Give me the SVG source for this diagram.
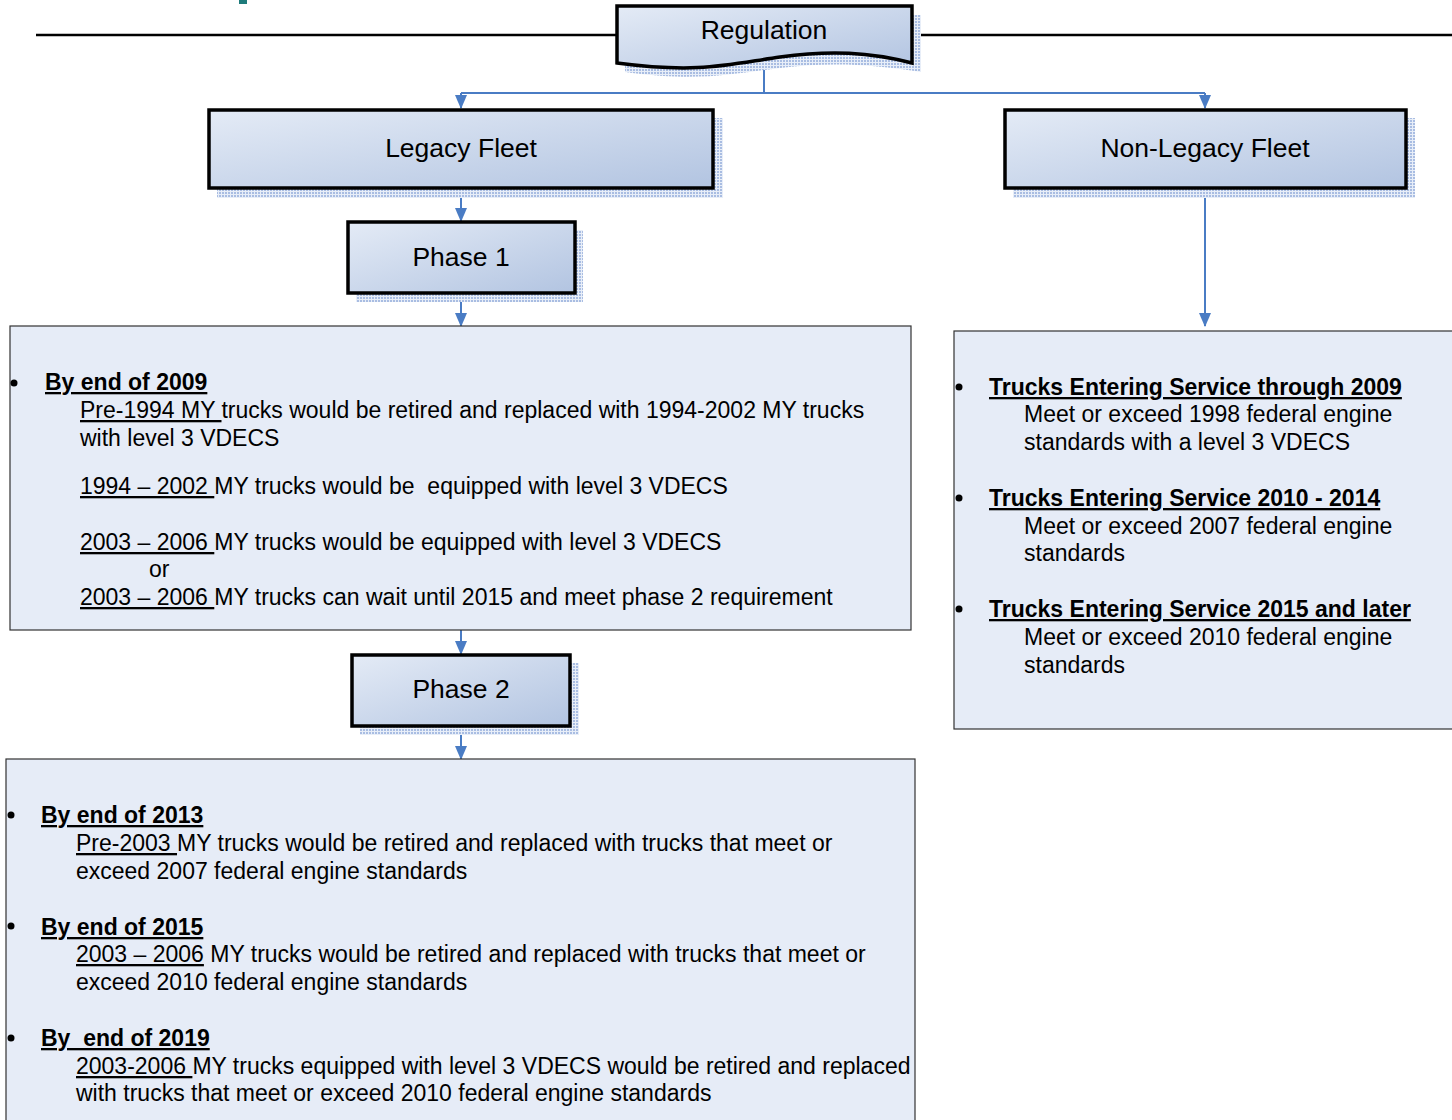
<svg xmlns="http://www.w3.org/2000/svg" width="1452" height="1120" viewBox="0 0 1452 1120">
<defs>
<linearGradient id="g" x1="0" y1="0" x2="1" y2="1">
<stop offset="0" stop-color="#e4ebf6"/>
<stop offset="1" stop-color="#b2c4e1"/>
</linearGradient>
<pattern id="sh" width="3" height="3" patternUnits="userSpaceOnUse">
<rect width="3" height="3" fill="#e8eef8"/>
<rect width="2" height="2" fill="#a9bde2"/>
</pattern>
<marker id="ah" viewBox="0 0 14 12" refX="13" refY="6" markerWidth="14" markerHeight="12" markerUnits="userSpaceOnUse" orient="auto">
<path d="M0,0 L14,6 L0,12 z" fill="#4a7cc4"/>
</marker>
<style>
.node{fill:url(#g);stroke:#000;stroke-width:3.5}
.shadow{fill:url(#sh)}
.lbl{font-family:"Liberation Sans",Arial,sans-serif;font-size:26.5px;fill:#000;text-anchor:middle}
.panel{fill:#e6ecf7;stroke:#333;stroke-width:1.2}
.t{font-family:"Liberation Sans",Arial,sans-serif;font-size:23px;fill:#000;white-space:pre}
.h{font-weight:bold;text-decoration:underline}
.u{text-decoration:underline}
.c{fill:none;stroke:#4a7cc4;stroke-width:2}
.b{fill:#000}
</style>
</defs>
<rect x="0" y="0" width="1452" height="1120" fill="#fff"/>
<rect x="239" y="0" width="8" height="4" fill="#1e7b7b"/>
<line x1="36" y1="35" x2="1452" y2="35" stroke="#000" stroke-width="2.5"/>

<g id="connectors">
<path class="c" d="M764,62 V93"/>
<path class="c" d="M461,93 H1205"/>
<path class="c" d="M461,93 V108" marker-end="url(#ah)"/>
<path class="c" d="M1205,93 V108" marker-end="url(#ah)"/>
<path class="c" d="M461,188 V221" marker-end="url(#ah)"/>
<path class="c" d="M461,293 V326" marker-end="url(#ah)"/>
<path class="c" d="M1205,188 V326" marker-end="url(#ah)"/>
<path class="c" d="M461,630 V654" marker-end="url(#ah)"/>
<path class="c" d="M461,726 V759" marker-end="url(#ah)"/>
</g>

<g id="regulation">
<path class="shadow" d="M625,15 H921 V72 C870,64 830,62 780,68 C730,74 700,82 625,72 Z"/>
<path class="node" d="M617,6 H912 V63 C870,52 830,50 780,57 C730,64 700,74 617,63 Z"/>
<text class="lbl" x="764" y="39">Regulation</text>
</g>

<g id="legacy">
<rect class="shadow" x="217" y="118" width="506" height="80"/>
<rect class="node" x="209" y="110" width="504" height="78"/>
<text class="lbl" x="461" y="157">Legacy Fleet</text>
</g>

<g id="nonlegacy">
<rect class="shadow" x="1013" y="118" width="402" height="80"/>
<rect class="node" x="1005" y="110" width="401" height="78"/>
<text class="lbl" x="1205" y="157">Non-Legacy Fleet</text>
</g>

<g id="phase1">
<rect class="shadow" x="356" y="230" width="227" height="72"/>
<rect class="node" x="348" y="222" width="227" height="71"/>
<text class="lbl" x="461" y="266">Phase 1</text>
</g>

<g id="phase2">
<rect class="shadow" x="360" y="663" width="219" height="72"/>
<rect class="node" x="352" y="655" width="218" height="71"/>
<text class="lbl" x="461" y="698">Phase 2</text>
</g>

<g id="phase1-requirements">
<rect class="panel" x="10" y="326" width="901" height="304"/>
<circle class="b" cx="14" cy="383" r="3.5"/>
<text class="t" x="45" y="390"><tspan class="h">By end of 2009</tspan></text>
<text class="t" x="80" y="418"><tspan class="u">Pre-1994 MY </tspan>trucks would be retired and replaced with 1994-2002 MY trucks</text>
<text class="t" x="80" y="446">with level 3 VDECS</text>
<text class="t" x="80" y="494"><tspan class="u">1994 – 2002 </tspan>MY trucks would be  equipped with level 3 VDECS</text>
<text class="t" x="80" y="550"><tspan class="u">2003 – 2006 </tspan>MY trucks would be equipped with level 3 VDECS</text>
<text class="t" x="149" y="577">or</text>
<text class="t" x="80" y="605"><tspan class="u">2003 – 2006 </tspan>MY trucks can wait until 2015 and meet phase 2 requirement</text>
</g>

<g id="nonlegacy-requirements">
<rect class="panel" x="954" y="331" width="510" height="398"/>
<circle class="b" cx="959" cy="387" r="3.5"/>
<text class="t" x="989" y="395"><tspan class="h">Trucks Entering Service through 2009</tspan></text>
<text class="t" x="1024" y="422">Meet or exceed 1998 federal engine</text>
<text class="t" x="1024" y="450">standards with a level 3 VDECS</text>
<circle class="b" cx="959" cy="498" r="3.5"/>
<text class="t" x="989" y="506"><tspan class="h">Trucks Entering Service 2010 - 2014</tspan></text>
<text class="t" x="1024" y="534">Meet or exceed 2007 federal engine</text>
<text class="t" x="1024" y="561">standards</text>
<circle class="b" cx="959" cy="609" r="3.5"/>
<text class="t" x="989" y="617"><tspan class="h">Trucks Entering Service 2015 and later</tspan></text>
<text class="t" x="1024" y="645">Meet or exceed 2010 federal engine</text>
<text class="t" x="1024" y="673">standards</text>
</g>

<g id="phase2-requirements">
<rect class="panel" x="6" y="759" width="909" height="370"/>
<circle class="b" cx="11" cy="815" r="3.5"/>
<text class="t" x="41" y="823"><tspan class="h">By end of 2013</tspan></text>
<text class="t" x="76" y="851"><tspan class="u">Pre-2003 </tspan>MY trucks would be retired and replaced with trucks that meet or</text>
<text class="t" x="76" y="879">exceed 2007 federal engine standards</text>
<circle class="b" cx="11" cy="926" r="3.5"/>
<text class="t" x="41" y="935"><tspan class="h">By end of 2015</tspan></text>
<text class="t" x="76" y="962"><tspan class="u">2003 – 2006</tspan> MY trucks would be retired and replaced with trucks that meet or</text>
<text class="t" x="76" y="990">exceed 2010 federal engine standards</text>
<circle class="b" cx="11" cy="1038" r="3.5"/>
<text class="t" x="41" y="1046"><tspan class="h">By  end of 2019</tspan></text>
<text class="t" x="76" y="1074"><tspan class="u">2003-2006 </tspan>MY trucks equipped with level 3 VDECS would be retired and replaced</text>
<text class="t" x="76" y="1101">with trucks that meet or exceed 2010 federal engine standards</text>
</g>
</svg>
